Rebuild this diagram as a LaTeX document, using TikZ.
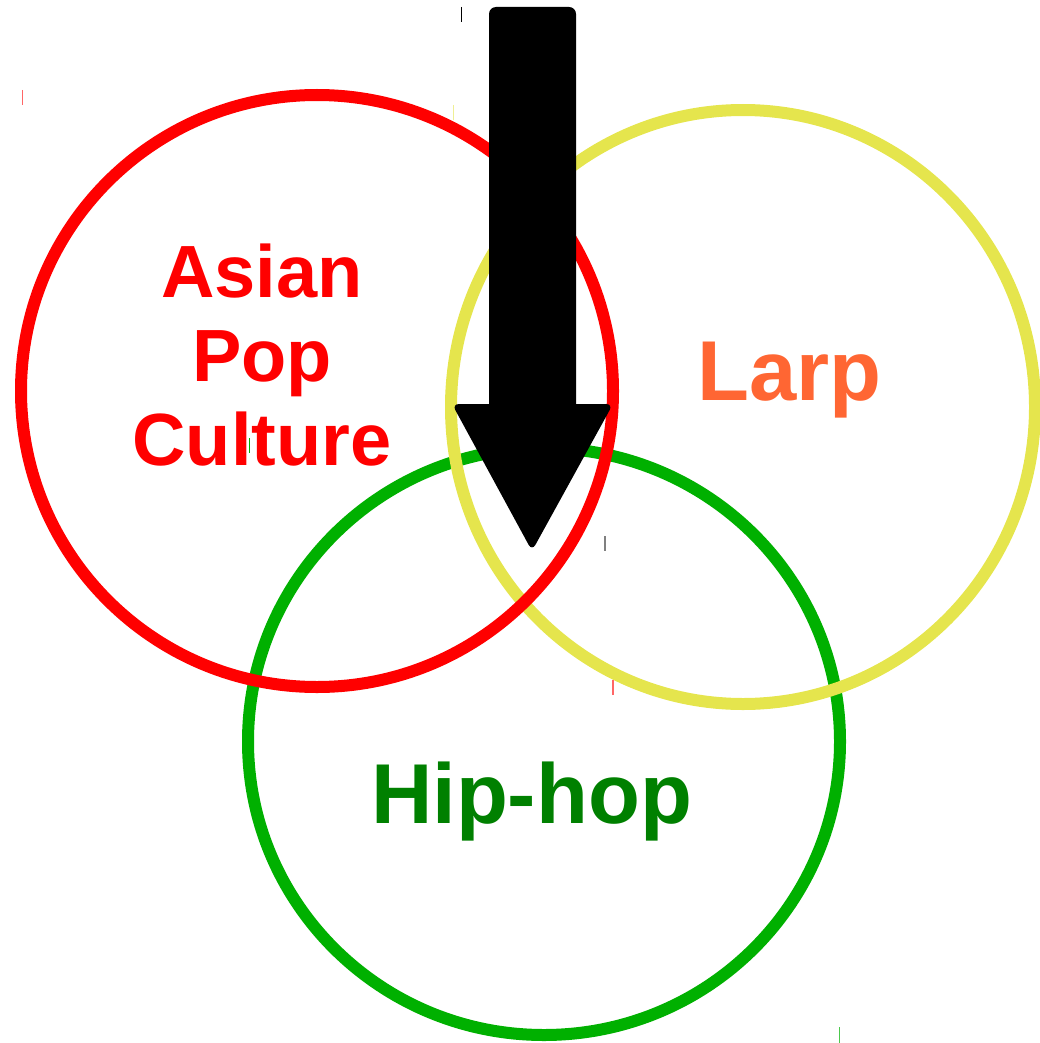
\documentclass[tikz,border=0pt]{standalone}
\usepackage{fontspec}
\setmainfont{Liberation Sans}
\definecolor{cred}{RGB}{255,0,0}
\definecolor{cyellow}{RGB}{229,229,77}
\definecolor{cgreen}{RGB}{0,176,0}
\definecolor{tgreen}{RGB}{0,128,0}
\definecolor{torange}{RGB}{255,102,51}
\begin{document}
\begin{tikzpicture}[x=1pt,y=-1pt,
  ring/.style={line width=12pt},
  lbl/.style={inner sep=0pt,anchor=base,font=\bfseries\fontsize{#1}{84}\selectfont},
  tick/.style={line width=1.5pt},
  arrowpart/.style={fill=black,rounded corners=7pt}]
\useasboundingbox (0,0) rectangle (1039,1043);
% circles
\draw[cgreen,ring] (544,741.5) ellipse [x radius=296, y radius=293.5];
\draw[cyellow,ring] (743,407) ellipse [x radius=292, y radius=297];
\draw[cred,ring] (317,391) ellipse [x radius=296, y radius=296];
% labels
\node[lbl=74,text=cred] (asian) at (262,297) {\begin{tabular}[t]{@{}c@{}}Asian\\Pop\\Culture\end{tabular}};
\node[lbl=85,text=torange] (larp) at (789.5,400) {Larp};
\node[lbl=85,text=tgreen] (hiphop) at (531.5,823) {Hip-hop};
% arrow
\path[arrowpart] (489,7) rectangle (576,430);
\path[arrowpart] (452,404) -- (613,404) -- (532,551) -- cycle;
% small marks
\draw[black,line width=1pt] (461.5,7) -- (461.5,22);
\draw[tick,red!60] (22.5,90) -- (22.5,105);
\draw[tick,cyellow!60] (453.7,105) -- (453.7,120);
\draw[tick,gray] (605,536) -- (605,551);
\draw[tick,red!60] (613,680) -- (613,695);
\draw[tick,cgreen!70] (839.7,1027) -- (839.7,1043);
\draw[line width=1pt,cgreen] (249.3,438) -- (249.3,453);
\end{tikzpicture}
\end{document}
